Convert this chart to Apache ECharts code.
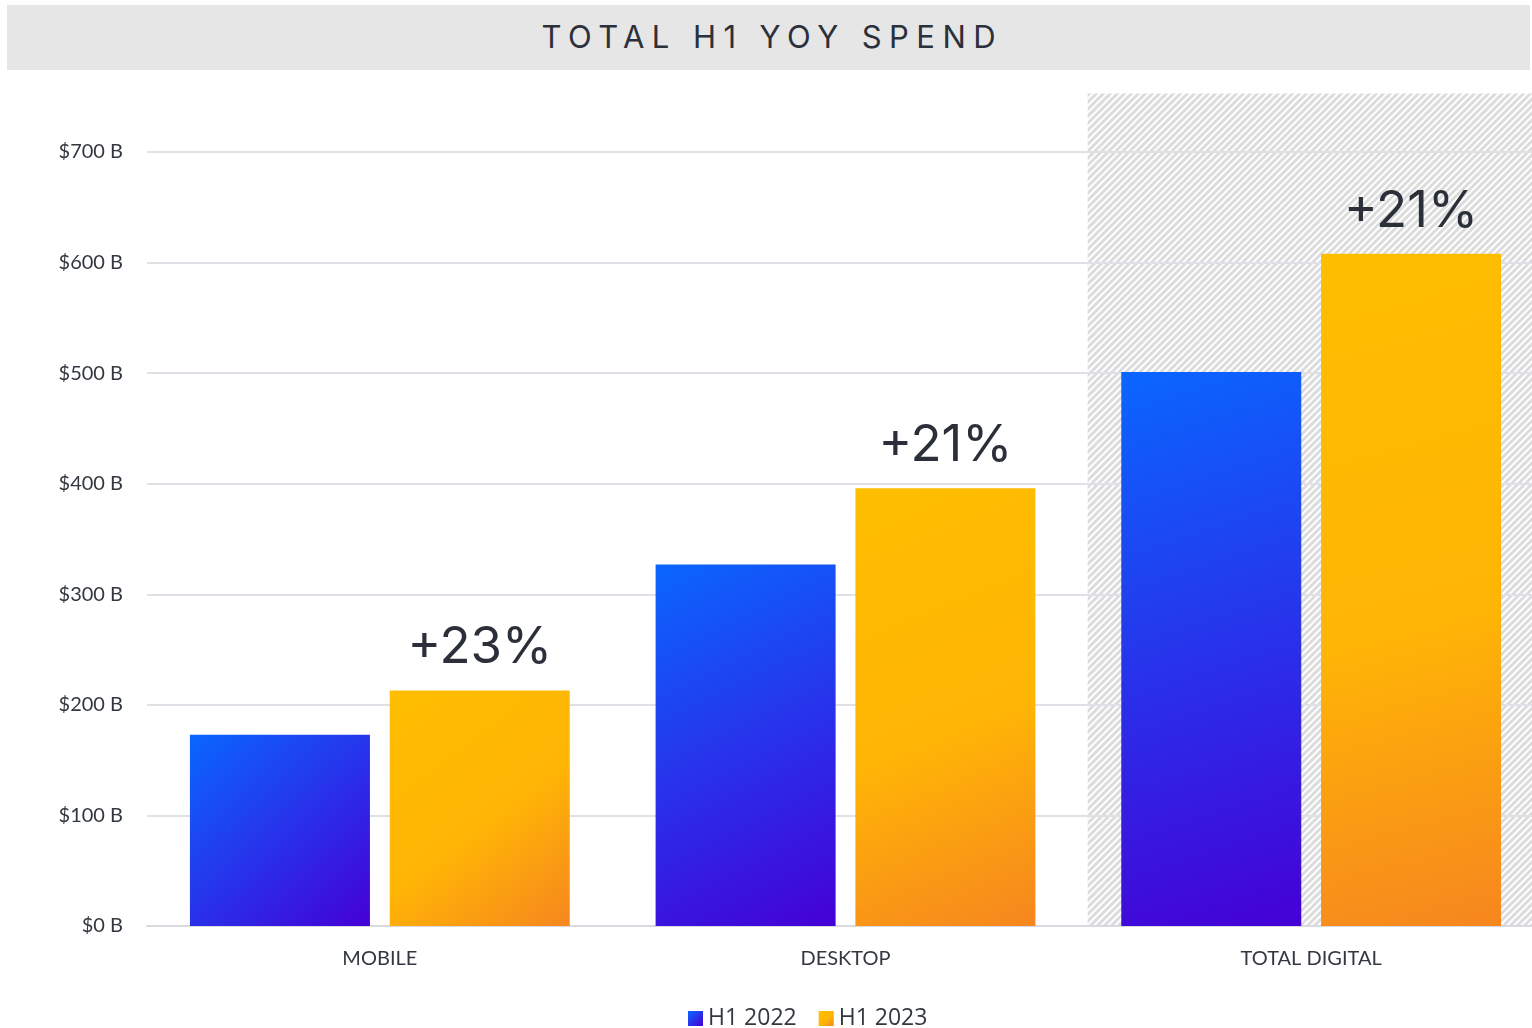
<!DOCTYPE html>
<html>
<head>
<meta charset="utf-8">
<title>Total H1 YoY Spend</title>
<script src="https://cdn.jsdelivr.net/npm/echarts@6/dist/echarts.min.js"></script>
<style>
  html, body { margin: 0; padding: 0; background: #ffffff; overflow: hidden; }
  #wrap { position: relative; width: 1532px; height: 1028px; overflow: hidden; }
  #titlebar {
    position: absolute; left: 7px; top: 5px; width: 1523px; height: 65px;
    background: #e6e6e6; z-index: 2;
    display: flex; align-items: center; justify-content: center;
    font-family: "Inter", "Open Sans", sans-serif; font-size: 31px; font-weight: 400;
    letter-spacing: 0.24em; color: #2b303a; padding-left: 0.24em; padding-bottom: 3px; box-sizing: border-box;
  }
  #chart { position: absolute; left: 0; top: 0; width: 1544px; height: 1028px; }
</style>
</head>
<body>
<div id="wrap">
  <div id="titlebar">TOTAL H1 YOY SPEND</div>
  <div id="chart"></div>
</div>
<script>
// Spend by channel, in billions of dollars
const categories = ['MOBILE', 'DESKTOP', 'TOTAL DIGITAL'];
const seriesNames = ['H1 2022', 'H1 2023'];
const spend2022 = [173, 327, 501];
const spend2023 = [213, 396, 608];
const yTicks = [0, 100, 200, 300, 400, 500, 600, 700];
const highlightCategory = 'TOTAL DIGITAL';

// year-over-year growth label for each 2023 bar
const growthLabels = spend2023.map((v, i) => '+' + Math.round((v / spend2022[i] - 1) * 100) + '%');

const blueFill = new echarts.graphic.LinearGradient(0, 0, 1, 1, [
  { offset: 0, color: '#0a66ff' },
  { offset: 1, color: '#4500d6' }
]);
const orangeFill = new echarts.graphic.LinearGradient(0, 0, 1, 1, [
  { offset: 0, color: '#ffbe00' },
  { offset: 0.55, color: '#ffb505' },
  { offset: 1, color: '#f6861f' }
]);

// diagonal hatch tile for the highlighted category band
function hatchTile() {
  const s = 7;
  const c = document.createElement('canvas');
  c.width = s; c.height = s;
  const g = c.getContext('2d');
  g.fillStyle = '#ffffff';
  g.fillRect(0, 0, s, s);
  g.strokeStyle = '#dcdcdc';
  g.lineWidth = 3;
  g.beginPath();
  g.moveTo(-1, s + 1); g.lineTo(s + 1, -1);
  g.moveTo(-1, 1); g.lineTo(1, -1);
  g.moveTo(s - 1, s + 1); g.lineTo(s + 1, s - 1);
  g.stroke();
  return c;
}

const chart = echarts.init(document.getElementById('chart'), null, { renderer: 'canvas' });

const option = {
  animation: false,
  backgroundColor: '#ffffff',
  textStyle: { fontFamily: 'Lato, "Open Sans", sans-serif' },
  grid: { left: 147, right: 0, top: 152, bottom: 102, containLabel: false },
  legend: {
    data: seriesNames,
    left: 683,
    top: 1002,
    itemWidth: 15,
    itemHeight: 15,
    itemGap: 22,
    icon: 'rect',
    textStyle: { fontSize: 23, color: '#333840', fontFamily: '"Open Sans", Lato, sans-serif' }
  },
  xAxis: {
    type: 'category',
    data: categories,
    axisLine: { show: true, lineStyle: { color: '#d9dae0', width: 2 } },
    axisTick: { show: false },
    axisLabel: { fontSize: 20, color: '#333840', margin: 23 }
  },
  yAxis: {
    type: 'value',
    min: 0,
    max: yTicks[yTicks.length - 1],
    interval: 100,
    axisLine: { show: false },
    axisTick: { show: false },
    splitLine: { lineStyle: { color: '#e0e1e6', width: 2 } },
    axisLabel: {
      fontSize: 20, color: '#333840', margin: 24,
      formatter: v => '$' + v + ' B'
    }
  },
  series: [
    {
      name: seriesNames[0],
      type: 'bar',
      data: spend2022,
      barWidth: 180,
      barGap: '11%',
      itemStyle: { color: blueFill }
    },
    {
      name: seriesNames[1],
      type: 'bar',
      data: spend2023,
      barWidth: 180,
      itemStyle: { color: orangeFill },
      label: {
        show: true,
        position: 'top',
        distance: 17,
        formatter: p => growthLabels[p.dataIndex],
        fontSize: 51,
        fontFamily: 'Inter, "Open Sans", sans-serif',
        fontWeight: 400,
        color: '#2a2f3a'
      }
    }
  ]
};

chart.setOption(option);

// hatched backdrop behind the highlighted category, placed through the axis scales
const cx = chart.convertToPixel({ xAxisIndex: 0 }, highlightCategory);
const y0 = chart.convertToPixel({ yAxisIndex: 0 }, 0);
const yMax = chart.convertToPixel({ yAxisIndex: 0 }, yTicks[yTicks.length - 1]);
const band = chart.convertToPixel({ xAxisIndex: 0 }, categories[1]) - chart.convertToPixel({ xAxisIndex: 0 }, categories[0]);
const hatchLeft = cx - band * 0.48;
const hatchTop = y0 - (y0 - yMax) * 753 / 700;

chart.setOption({
  graphic: [{
    type: 'rect',
    z: -10,
    silent: true,
    shape: { x: hatchLeft, y: hatchTop, width: 1532 - hatchLeft, height: y0 - hatchTop },
    style: { fill: { image: hatchTile(), repeat: 'repeat' } }
  }]
});
</script>
</body>
</html>
